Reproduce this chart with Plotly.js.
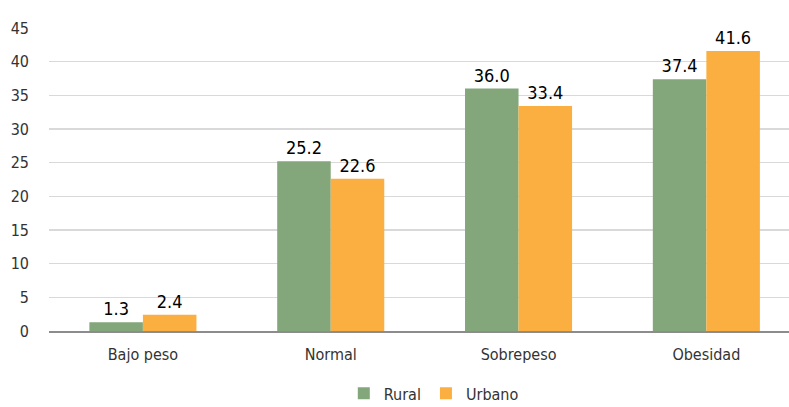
<!DOCTYPE html>
<html>
<head>
<meta charset="utf-8">
<script src="https://cdn.plot.ly/plotly-3.0.1.min.js"></script>
<style>html,body{margin:0;padding:0;background:#fff;}#chart{width:789px;height:407px;}
#chart text{font-stretch:condensed !important;}</style>
</head>
<body>
<div id="chart"></div>
<script>
const categories = ["Bajo peso", "Normal", "Sobrepeso", "Obesidad"];
const rural = [1.3, 25.2, 36.0, 37.4];
const urbano = [2.4, 22.6, 33.4, 41.6];
const seriesNames = ["Rural", "Urbano"];
const yTicks = [0, 5, 10, 15, 20, 25, 30, 35, 40, 45];

const FONT = '"DejaVu Sans Condensed", "DejaVu Sans", sans-serif';

const traces = [
  {type: 'bar', name: seriesNames[0], x: categories, y: rural,
   marker: {color: '#83A77B'}, text: rural.map(v => v.toFixed(1)),
   textposition: 'outside', cliponaxis: false,
   textfont: {family: FONT, size: 18, color: '#000'}},
  {type: 'bar', name: seriesNames[1], x: categories, y: urbano,
   marker: {color: '#FAAF40'}, text: urbano.map(v => v.toFixed(1)),
   textposition: 'outside', cliponaxis: false,
   textfont: {family: FONT, size: 18, color: '#000'}}
];

const layout = {
  width: 789, height: 407,
  margin: {l: 49, r: 0, t: 28, b: 76, autoexpand: false},
  paper_bgcolor: '#fff', plot_bgcolor: '#fff',
  font: {family: FONT, size: 16, color: '#333'},
  barmode: 'group', bargap: 0.43, bargroupgap: 0,
  xaxis: {type: 'category', range: [-0.5, 3.44], showgrid: false,
          showline: true, linecolor: '#8c8c8c', linewidth: 1.5,
          ticks: '', ticklabelstandoff: 8, tickfont: {family: FONT, size: 16, color: '#333'}},
  yaxis: {range: [0, 45], tickvals: yTicks, showgrid: true, gridcolor: '#d9d9d9',
          gridwidth: 1.5, zeroline: false, showline: false, ticks: '',
          ticklabelstandoff: 19, tickfont: {family: FONT, size: 16, color: '#333'}},
  showlegend: true,
  legend: {orientation: 'h', x: 0.52, xanchor: 'center', y: -0.15, yanchor: 'top',
           font: {family: FONT, size: 16, color: '#333'}, itemwidth: 30, tracegroupgap: 0}
};

Plotly.newPlot('chart', traces, layout, {displayModeBar: false, staticPlot: true});
</script>
</body>
</html>
